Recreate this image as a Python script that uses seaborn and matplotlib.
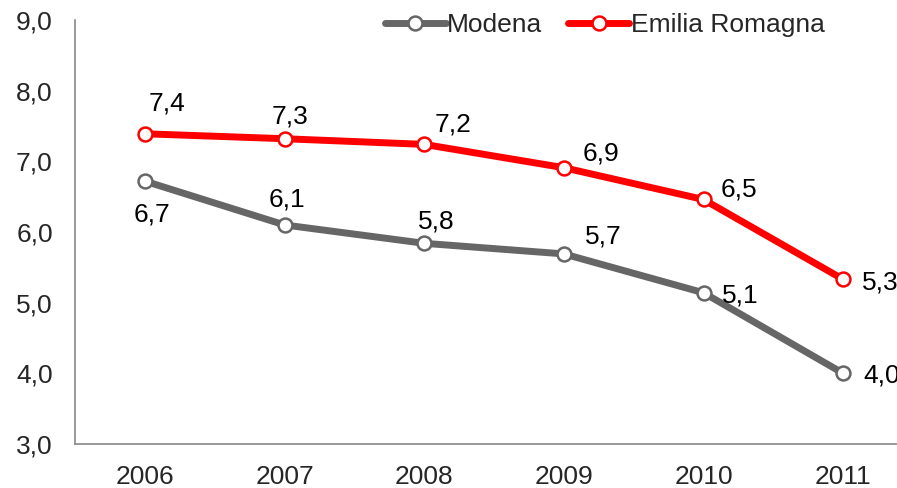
import matplotlib
matplotlib.use("Agg")
import matplotlib.pyplot as plt
import seaborn as sns
import pandas as pd
from matplotlib.lines import Line2D

years = ["2006", "2007", "2008", "2009", "2010", "2011"]
modena = [6.72, 6.10, 5.84, 5.69, 5.14, 4.00]
emilia = [7.39, 7.32, 7.24, 6.91, 6.46, 5.33]
series_names = ["Modena", "Emilia Romagna"]
y_ticks = [3.0, 4.0, 5.0, 6.0, 7.0, 8.0, 9.0]

# label offsets in pixels (style only)
off_modena = [(7, -33), (2, 25), (12, 22), (39, 17), (37, -3), (39, -2)]
off_emilia = [(22, 30), (5, 22), (29, 20), (37, 14), (35, 10), (37, -3)]

colors = ["#666666", "#ff0000"]

sns.set_style("white")
plt.rcParams['font.family'] = ['Liberation Sans', 'DejaVu Sans']

fig = plt.figure(figsize=(8.97, 4.88), dpi=100)
ax = fig.add_axes([75 / 897, 44 / 488, 838 / 897, 424 / 488])

df = pd.DataFrame({"year": years * 2,
                   "value": modena + emilia,
                   "area": [series_names[0]] * 6 + [series_names[1]] * 6})

for name, col, offs in zip(series_names, colors, [off_modena, off_emilia]):
    sub = df[df["area"] == name]
    sns.lineplot(data=sub, x="year", y="value", ax=ax, color=col, linewidth=5,
                 marker="o", markersize=10, markerfacecolor="white",
                 markeredgecolor=col, markeredgewidth=1.8, sort=False, zorder=3)
    for i, (yr, v) in enumerate(zip(sub["year"], sub["value"])):
        ax.annotate(f"{v:.1f}".replace(".", ","), (i, v), xytext=offs[i],
                    textcoords="offset pixels", ha="center", va="center",
                    fontsize=19, color="black", annotation_clip=False)

ax.set_xlim(-0.5, 5.5)
ax.set_ylim(3, 9)
ax.set_yticks(y_ticks)
ax.set_yticklabels([f"{t:.1f}".replace(".", ",") for t in y_ticks])
ax.set_xticks(range(len(years)))
ax.set_xticklabels(years)
ax.set_xticks([i - 0.5 for i in range(len(years) + 1)], minor=True)
ax.tick_params(axis="x", which="major", length=0, labelsize=19, pad=15)
ax.tick_params(axis="x", which="minor", length=6, width=1.2, color="#888888", direction="out")
ax.tick_params(axis="y", length=6, width=1.2, color="#888888", direction="out", labelsize=19, pad=10)
ax.set_xlabel("")
ax.set_ylabel("")
for s in ["top", "right"]:
    ax.spines[s].set_visible(False)
for s in ["left", "bottom"]:
    ax.spines[s].set_color("#888888")
    ax.spines[s].set_linewidth(1.2)

handles = [Line2D([], [], color=c, linewidth=5, marker="o", markersize=10,
                  markerfacecolor="white", markeredgecolor=c, markeredgewidth=1.8)
           for c in colors]
ax.legend(handles, series_names, loc="center", bbox_to_anchor=(0.632, 0.988),
          ncol=2, frameon=False, fontsize=19, handlelength=2.3, handletextpad=0.05,
          columnspacing=1.0, borderpad=0, borderaxespad=0)

fig.savefig("out.png", dpi=100)
